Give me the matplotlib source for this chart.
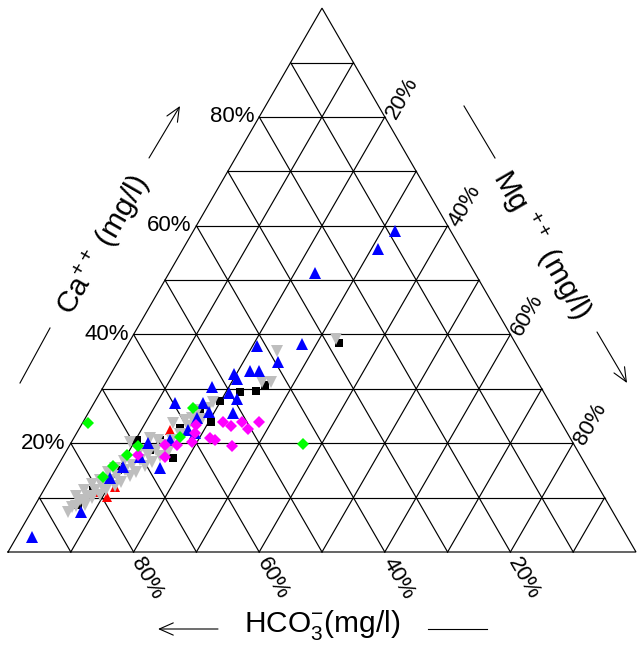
import numpy as np
import matplotlib
matplotlib.use("Agg")
import matplotlib.pyplot as plt
from matplotlib.patches import FancyArrowPatch

plt.rcParams['font.family'] = ['Liberation Sans', 'DejaVu Sans']
plt.rcParams['mathtext.fontset'] = 'custom'
plt.rcParams['mathtext.rm'] = 'Liberation Sans'
plt.rcParams['mathtext.it'] = 'Liberation Sans:italic'

# ---- composition data (% of Ca++, Mg++, HCO3-) per sample group ----
blue_ca   = [59.0, 55.7, 51.3, 38.2, 37.9, 34.9, 33.3, 33.3, 32.7, 31.8, 30.3, 29.2, 28.1, 27.4,
             27.4, 25.7, 24.6, 22.4, 20.0, 15.4, 15.6, 7.4, 2.8, 21.9, 13.6, 17.5, 20.6, 25.6]
blue_mg   = [32.1, 31.1, 23.2, 27.7, 20.7, 25.5, 21.9, 23.3, 19.6, 20.6, 17.3, 20.6, 22.4, 12.9,
             17.4, 19.1, 17.8, 17.5, 12.3, 16.5, 10.5, 7.9, 2.4, 18.8, 9.4, 12.3, 15.5, 23.1]

black_ca  = [38.4, 29.6, 30.7, 27.8, 23.9, 17.3, 20.6, 11.4, 25.7, 22.8, 18.8, 15.1, 8.6, 12.3,
             20.6, 29.4]
black_mg  = [33.5, 24.7, 25.6, 19.9, 20.4, 17.6, 10.3, 7.8, 17.7, 16.0, 13.2, 10.0, 6.8, 9.3,
             13.9, 22.2]

grey_ca   = [39.2, 36.9, 31.3, 31.3, 27.6, 26.1, 24.6, 24.4, 8.3, 9.6, 10.3, 11.4, 12.1, 13.2,
             14.0, 15.1, 16.0, 16.9, 17.8, 18.8, 19.7, 20.6, 21.7, 23.2, 8.6, 10.5, 12.1, 14.0,
             15.8, 17.6, 10.3, 12.5, 14.7, 16.7, 20.2, 21.0, 23.7,
             7.4, 8.5, 9.2, 9.9, 11.4, 12.9, 14.7, 16.5, 18.4, 15.4, 18.8, 20.6, 24.3, 26.5,
             13.2, 11.4]
grey_mg   = [32.6, 24.4, 24.8, 26.2, 18.8, 17.2, 17.0, 18.7, 6.0, 6.7, 7.6, 8.2, 8.9, 9.6,
             10.4, 11.1, 11.8, 12.6, 13.4, 14.2, 15.0, 15.8, 16.5, 17.1, 8.0, 9.4, 11.0, 12.4,
             13.9, 15.4, 5.7, 7.1, 8.6, 10.1, 9.3, 12.1, 14.4,
             5.9, 6.6, 7.5, 8.4, 9.9, 11.5, 13.0, 14.7, 16.3, 9.3, 11.6, 13.6, 16.1, 18.6,
             8.1, 6.4]

green_ca  = [19.9, 23.7, 26.5, 19.5, 17.8, 15.8, 13.8, 21.1]
green_mg  = [37.0, 0.9, 16.2, 11.0, 10.0, 8.8, 8.2, 16.8]

magenta_ca = [23.9, 23.2, 23.9, 22.6, 23.9, 21.0, 20.6, 19.5, 21.9, 20.2, 19.7, 19.7, 17.5,
              17.8, 23.3]
magenta_mg = [22.3, 23.9, 25.3, 26.9, 28.0, 21.7, 22.7, 25.9, 18.8, 19.2, 17.1, 15.1, 16.3,
              11.8, 18.3]

red_ca    = [22.4, 10.1, 11.0, 11.9, 22.4]
red_mg    = [17.5, 10.7, 8.5, 11.1, 14.6]

tick_values = [20, 40, 60, 80]
tick_labels = ['20%', '40%', '60%', '80%']

H = np.sqrt(3) / 2


def tern(ca, mg):
    """Ca at the top vertex, Mg at bottom right, HCO3 at bottom left."""
    ca = np.asarray(ca, float) / 100.0
    mg = np.asarray(mg, float) / 100.0
    return mg + ca / 2.0, ca * H


def px(x, y):
    """Layout helper: figure pixel -> plot coordinates."""
    return (x - 8) / 628.0, (552 - y) / 628.0


fig = plt.figure(figsize=(6.41, 6.52), dpi=100)
ax = fig.add_axes([0, 0, 1, 1])
ax.set_xlim(-8 / 628.0, 633 / 628.0)
ax.set_ylim(-100 / 628.0, 552 / 628.0)
ax.axis('off')

lw = 0.85
# outer triangle
tx, ty = tern([0, 0, 100, 0], [0, 100, 0, 0])
ax.plot(tx, ty, color='black', lw=lw, solid_joinstyle='miter')

# grid every 10%
for k in range(10, 100, 10):
    x, y = tern([k, k], [0, 100 - k])           # constant Ca
    ax.plot(x, y, color='black', lw=lw)
    x, y = tern([0, 100 - k], [k, k])           # constant Mg
    ax.plot(x, y, color='black', lw=lw)
    x, y = tern([0, 100 - k], [100 - k, 0])     # constant HCO3
    ax.plot(x, y, color='black', lw=lw)

fs_tick = 16
for v, lab in zip(tick_values, tick_labels):
    # Ca labels on left side
    x, y = tern([v], [0])
    ax.annotate(lab, (x[0], y[0]), xytext=(-5, 0), textcoords='offset pixels',
                ha='right', va='center', fontsize=fs_tick)
    # Mg labels on right side
    x, y = tern([100 - v], [v])
    ax.annotate(lab, (x[0], y[0]), xytext=(6, 0), textcoords='offset pixels',
                ha='left', va='center', fontsize=fs_tick, rotation=60,
                rotation_mode='anchor')
    # HCO3 labels on bottom
    x, y = tern([0], [100 - v])
    ax.annotate(lab, (x[0], y[0]), xytext=(2, -7), textcoords='offset pixels',
                ha='left', va='center', fontsize=fs_tick, rotation=-60,
                rotation_mode='anchor')

# data points
ms_kw = dict(linestyle='none', markeredgewidth=0)
x, y = tern(black_ca, black_mg)
ax.plot(x, y, marker='s', color='black', markersize=6, **ms_kw)
x, y = tern(red_ca, red_mg)
ax.plot(x, y, marker='^', color='#ff0000', markersize=7.5, **ms_kw)
x, y = tern(grey_ca, grey_mg)
ax.plot(x, y, marker='v', color='#bebebe', markersize=8, **ms_kw)
x, y = tern(blue_ca, blue_mg)
ax.plot(x, y, marker='^', color='#0000ff', markersize=8, **ms_kw)
x, y = tern(magenta_ca, magenta_mg)
ax.plot(x, y, marker='D', color='#ff00ff', markersize=6.5, **ms_kw)
x, y = tern(green_ca, green_mg)
ax.plot(x, y, marker='D', color='#00ff00', markersize=6.0, **ms_kw)

# axis titles
fs_title = 21.5
ax.text(*px(103, 245), 'Ca$^{++}$ (mg/l)', rotation=60, ha='center', va='center',
        fontsize=fs_title, rotation_mode='anchor')
ax.text(*px(541, 245), 'Mg $^{++}$ (mg/l)', rotation=-60, ha='center', va='center',
        fontsize=fs_title, rotation_mode='anchor')
ax.text(*px(322, 625), 'HCO$_3^{-}$(mg/l)', ha='center', va='center', fontsize=fs_title)

# direction arrows and lines
astyle = '->,head_length=0.5,head_width=0.22'


def arrow(p0, p1):
    ax.add_patch(FancyArrowPatch(px(*p0), px(*p1), arrowstyle=astyle, mutation_scale=20,
                                 lw=0.8, color='black', shrinkA=0, shrinkB=0))


def seg(p0, p1):
    a, b = px(*p0), px(*p1)
    ax.plot([a[0], b[0]], [a[1], b[1]], color='black', lw=0.8)


arrow((149, 158), (180, 106))
seg((20, 383), (50, 328))
seg((464, 106), (495, 158))
arrow((597, 332), (627, 383))
arrow((218, 629), (158, 629))
seg((428, 629), (487, 629))

fig.savefig('out.png', dpi=100)
